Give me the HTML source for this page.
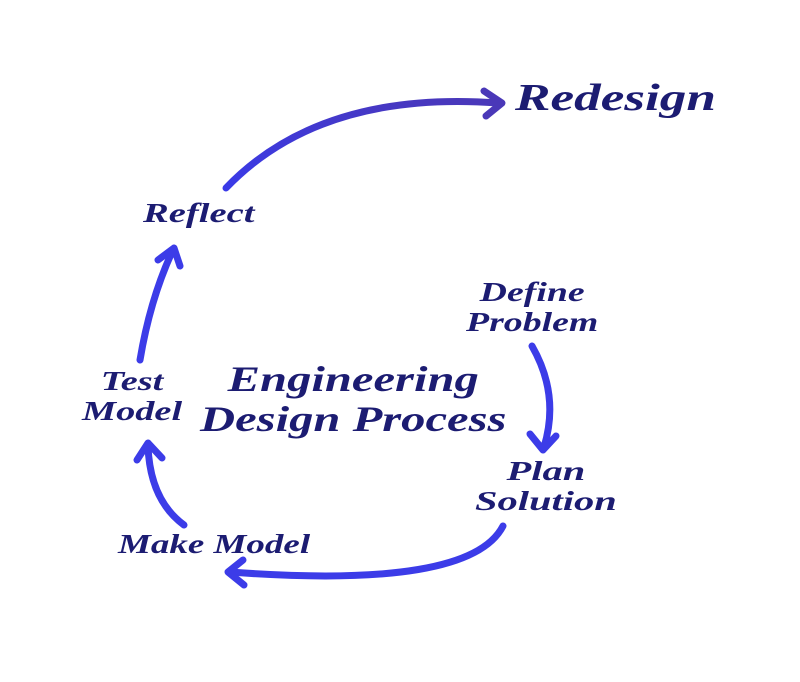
<!DOCTYPE html>
<html><head><meta charset="utf-8"><style>
html,body{margin:0;padding:0;background:#fff;}
body{width:800px;height:682px;position:relative;overflow:hidden;}
.t{position:absolute;font-family:"Liberation Serif",serif;font-style:italic;font-weight:bold;color:#1c1c72;text-align:center;line-height:1.1;white-space:nowrap;transform-origin:0 0;}
</style></head><body>
<svg width="800" height="682" style="position:absolute;left:0;top:0">
<defs>
<linearGradient id="g1" x1="0" y1="1" x2="1" y2="0">
<stop offset="0" stop-color="#3a3ae8"/><stop offset="1" stop-color="#4a38b8"/>
</linearGradient>
</defs>
<g fill="none" stroke-width="7" stroke-linecap="round" stroke-linejoin="round">
<path d="M226 188 Q320 90 498 103" stroke="url(#g1)"/>
<path d="M484 91 L502 103 L486 116" stroke="#4a38b8"/>
<path d="M532 346 Q560 395 544 447" stroke="#3c3ce8"/>
<path d="M530 434 L543 450 L556 436" stroke="#3c3ce8"/>
<path d="M503 526 Q470 590 230 572" stroke="#3c3ce8"/>
<path d="M243 560 L228 572 L244 585" stroke="#3c3ce8"/>
<path d="M184 525 Q150 500 148 446" stroke="#3c3ce8"/>
<path d="M137 460 L148 443 L162 458" stroke="#3c3ce8"/>
<path d="M140 360 Q150 300 172 252" stroke="#3c3ce8"/>
<path d="M158 260 L174 248 L180 266" stroke="#3c3ce8"/>
</g>
</svg>
<div class="t" style="left:515px;top:78px;font-size:38px;transform:scaleX(1.4)">Redesign</div>
<div class="t" style="left:143px;top:199px;font-size:27px;transform:scaleX(1.43)">Reflect</div>
<div class="t" style="left:466px;top:278px;font-size:27px;transform:scaleX(1.4)">Define<br>Problem</div>
<div class="t" style="left:82px;top:367px;font-size:27px;transform:scaleX(1.42)">Test<br>Model</div>
<div class="t" style="left:200px;top:360px;font-size:36px;transform:scaleX(1.35)">Engineering<br>Design Process</div>
<div class="t" style="left:475px;top:457px;font-size:27px;transform:scaleX(1.5)">Plan<br>Solution</div>
<div class="t" style="left:118px;top:530px;font-size:27px;transform:scaleX(1.37)">Make Model</div>
</body></html>
